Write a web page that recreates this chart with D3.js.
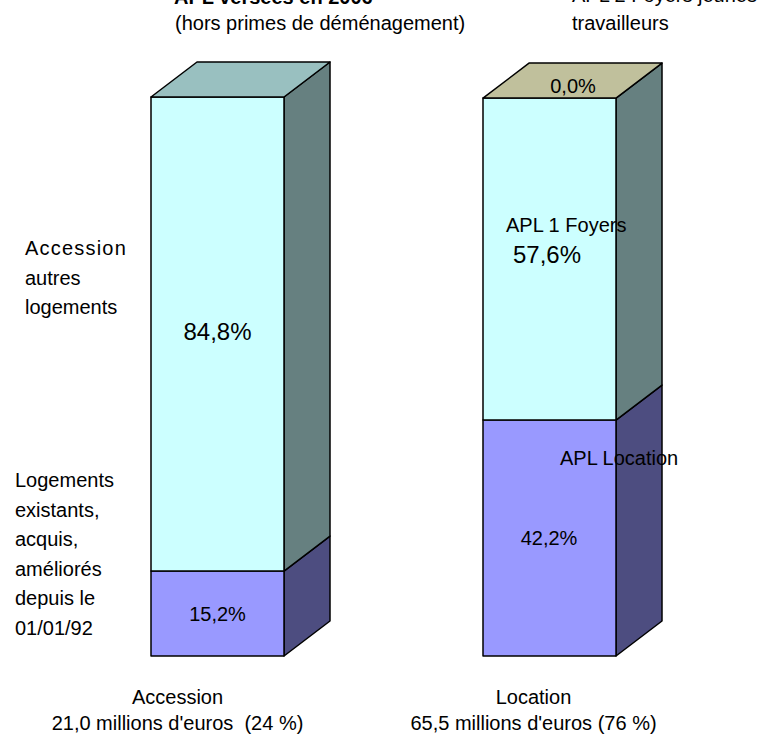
<!doctype html>
<html lang="fr">
<head>
<meta charset="utf-8">
<style>
  body { margin: 0; background: #fff; }
  svg { display: block; font-family: "Liberation Sans", Arial, sans-serif; }
  .edge { stroke: #000; stroke-width: 1.5; stroke-linejoin: round; }
  text { white-space: pre; fill: #000; }
</style>
</head>
<body>
<script src="https://cdn.jsdelivr.net/npm/d3@7"></script>
<script>
// data
var categories = ["Accession", "Location"];
var accessionVals = [15.2, 84.8, 0];
var locationVals = [42.2, 57.6, 0.0];
var segLabelsAcc = ["15,2%", "84,8%", null];
var segLabelsLoc = ["42,2%", "57,6%", "0,0%"];
var bottomLine1 = ["Accession", "Location"];
var bottomLine2 = ["21,0 millions d'euros  (24 %)", "65,5 millions d'euros (76 %)"];

var width = 758, height = 735;
var dx = 46, dy = 35;

var svg = d3.select("body").append("svg")
  .attr("width", width).attr("height", height);

var x = d3.scaleBand().domain(categories).range([151, 616])
  .paddingInner(1 - 133 / 332).paddingOuter(0);
var y = d3.scaleLinear().domain([0, 100]).range([656, 97]);

// colours: front, side, top face
var frontCol = ["#9999ff", "#ccffff", "#c0c09c"];
var sideCol  = ["#4d4d80", "#668080", "#606048"];
var topCol   = ["#7a7acc", "#99c0c0", "#c0c09c"];

var series = [accessionVals, locationVals];

categories.forEach(function(cat, ci) {
  var vals = series[ci];
  var x0 = x(cat), w = x.bandwidth();
  var g = svg.append("g");
  var cum = 0, topIdx = 0;
  vals.forEach(function(v, si) {
    var yb = y(cum), yt = y(cum + v);
    cum += v;
    if (v <= 0) return;
    topIdx = si;
    g.append("path").attr("class", "edge")
      .attr("fill", sideCol[si])
      .attr("d", "M" + (x0 + w) + "," + yb + "L" + (x0 + w + dx) + "," + (yb - dy) +
        "L" + (x0 + w + dx) + "," + (yt - dy) + "L" + (x0 + w) + "," + yt + "Z");
    g.append("rect").attr("class", "edge")
      .attr("x", x0).attr("y", yt).attr("width", w).attr("height", yb - yt)
      .attr("fill", frontCol[si]);
  });
  // the Location 0,0% segment only shows as its top face
  var fc = ci === 1 ? topCol[2] : topCol[topIdx];
  var yt = y(cum);
  g.append("path").attr("class", "edge")
    .attr("fill", fc)
    .attr("d", "M" + x0 + "," + yt + "L" + (x0 + dx) + "," + (yt - dy) +
      "L" + (x0 + w + dx) + "," + (yt - dy) + "L" + (x0 + w) + "," + yt + "Z");
});

// segment value labels
var xa = x("Accession") + x.bandwidth() / 2;
svg.append("text").attr("x", xa).attr("y", y(15.2 / 2) + 7)
  .attr("text-anchor", "middle").attr("font-size", 20).text(segLabelsAcc[0]);
svg.append("text").attr("x", xa).attr("y", y(15.2 + 84.8 / 2) + 6)
  .attr("text-anchor", "middle").attr("font-size", 24).text(segLabelsAcc[1]);

var xl = x("Location");
svg.append("text").attr("x", xl + 90).attr("y", y(100) - 4)
  .attr("text-anchor", "middle").attr("font-size", 20).text(segLabelsLoc[2]);
svg.append("text").attr("x", xl + 30).attr("y", y(42.2) - 157)
  .attr("font-size", 24).text(segLabelsLoc[1]);
svg.append("text").attr("x", xl + 66).attr("y", y(42.2 / 2) + 7)
  .attr("text-anchor", "middle").attr("font-size", 20).text(segLabelsLoc[0]);

// category annotation labels
function lines(arr, x0, y0, step, size) {
  arr.forEach(function(t, i) {
    svg.append("text").attr("x", x0).attr("y", y0 + i * step)
      .attr("font-size", size).text(t);
  });
}
lines(["Accession", "autres", "logements"], 25, 255, 29.5, 20);
svg.select("text:last-of-type"); // keep order
svg.selectAll("text").filter(function() { return this.textContent === "Accession" && +this.getAttribute("x") === 25; })
  .attr("letter-spacing", 1.2);
lines(["Logements", "existants,", "acquis,", "améliorés", "depuis le", "01/01/92"], 15, 487, 29.5, 20);
lines(["APL 1 Foyers"], xl + 23, 232, 0, 20);
lines(["APL Location"], xl + 77, 465, 0, 20);

// titles
svg.append("text").attr("x", 174).attr("y", 4).attr("font-size", 20)
  .attr("font-weight", "bold").text("APL versées en 2006");
svg.append("text").attr("x", 175).attr("y", 30).attr("font-size", 20)
  .text("(hors primes de déménagement)");
lines(["APL 2 Foyers jeunes", "travailleurs"], 572, 2, 28, 20);

// bottom category labels
categories.forEach(function(cat, i) {
  var cx = x(cat) + x.bandwidth() / 2 + [-40, -16][i];
  svg.append("text").attr("x", cx).attr("y", 704).attr("text-anchor", "middle")
    .attr("font-size", 20).text(bottomLine1[i]);
  svg.append("text").attr("x", cx).attr("y", 730).attr("text-anchor", "middle")
    .attr("font-size", 20).text(bottomLine2[i]);
});
</script>
</body>
</html>
